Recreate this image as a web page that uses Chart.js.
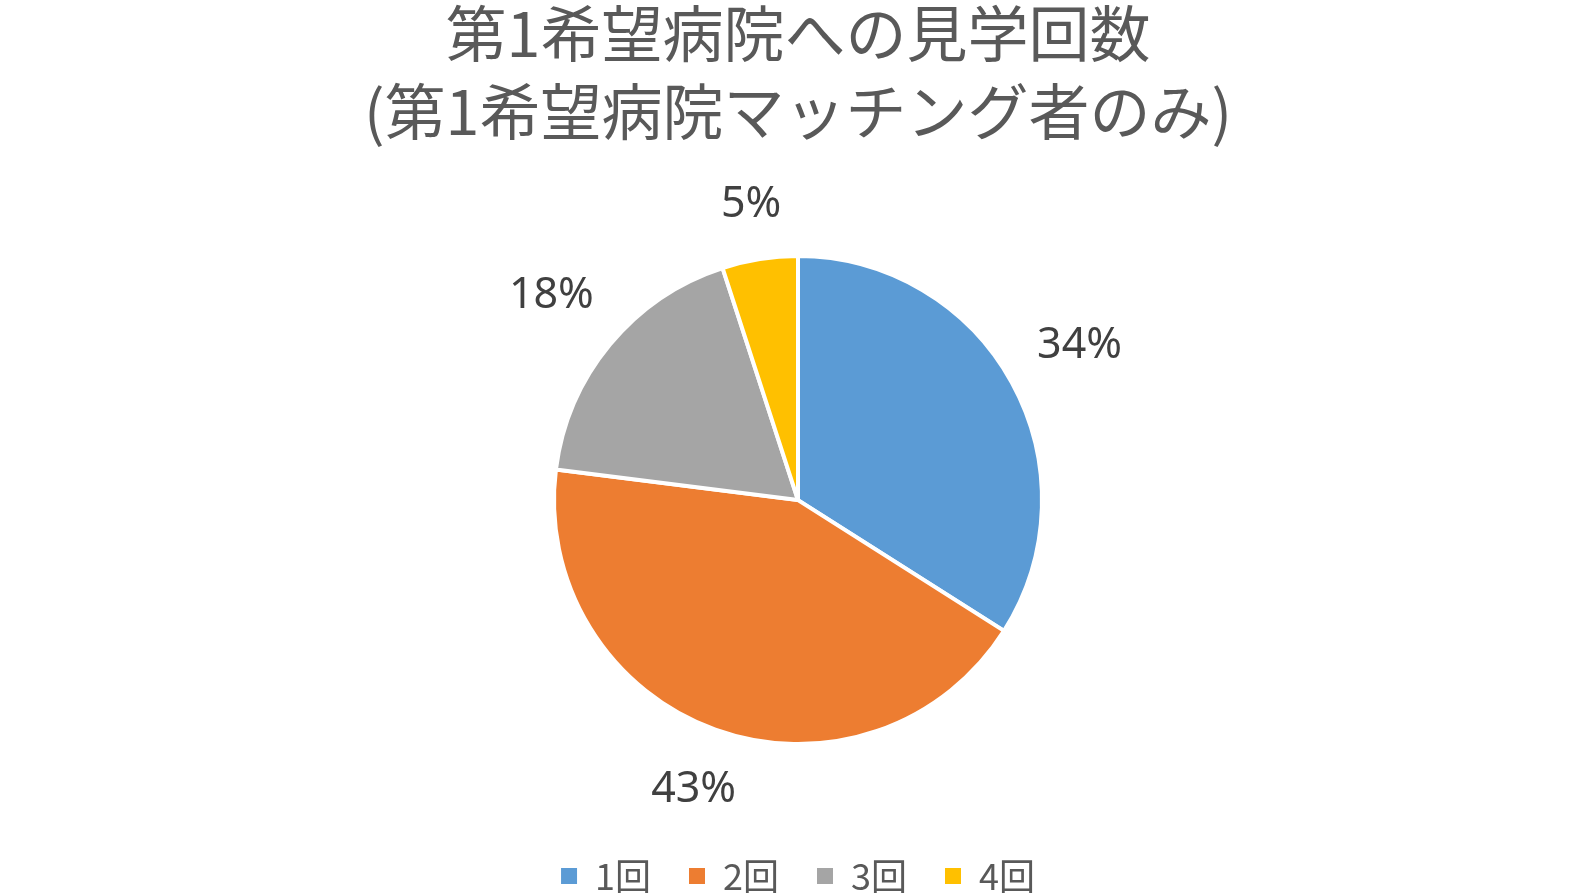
<!DOCTYPE html>
<html>
<head>
<meta charset="utf-8">
<script src="https://cdn.jsdelivr.net/npm/chart.js@4.4.0/dist/chart.umd.min.js"></script>
<style>
  html, body { margin: 0; padding: 0; background: #fff; overflow: hidden; }
  #wrap { width: 1596px; height: 893px; }
  canvas { display: block; }
</style>
</head>
<body>
<div id="wrap"><canvas id="pie" width="1596" height="893"></canvas></div>
<script>
var titleLines = ["第1希望病院への見学回数", "(第1希望病院マッチング者のみ)"];
var labels = ["1回", "2回", "3回", "4回"];
var values = [34, 43, 18, 5];
var colors = ["#5B9BD5", "#ED7D31", "#A5A5A5", "#FFC000"];

// percentage labels outside each slice
var outsideLabels = {
  id: "outsideLabels",
  afterDatasetsDraw: function (chart) {
    var ctx = chart.ctx;
    var meta = chart.getDatasetMeta(0);
    var total = values.reduce(function (a, b) { return a + b; }, 0);
    ctx.save();
    ctx.font = "43px 'Noto Sans', sans-serif";
    ctx.fillStyle = "#404040";
    ctx.textAlign = "center";
    ctx.textBaseline = "middle";
    meta.data.forEach(function (arc, i) {
      var p = arc.getProps(["x", "y", "startAngle", "endAngle", "outerRadius"], true);
      var mid = (p.startAngle + p.endAngle) / 2;
      var dx = Math.cos(mid), dy = Math.sin(mid);
      var txt = Math.round(values[i] / total * 100) + "%";
      var hw = ctx.measureText(txt).width / 2, hh = 21;
      var r = p.outerRadius + 30 + hw * Math.abs(dx) + hh * Math.abs(dy);
      ctx.fillText(txt, p.x + dx * r, p.y + dy * r);
    });
    ctx.restore();
  }
};

var ctx = document.getElementById("pie").getContext("2d");
var chart = new Chart(ctx, {
  type: "pie",
  data: {
    labels: labels,
    datasets: [{
      data: values,
      backgroundColor: colors,
      borderColor: "#ffffff",
      borderWidth: 4,
      radius: 244
    }]
  },
  options: {
    responsive: false,
    animation: false,
    layout: { padding: { top: -5, bottom: -11, left: 0, right: 0 } },
    plugins: {
      title: {
        display: true,
        text: titleLines,
        color: "#595959",
        font: { family: "'Noto Sans CJK JP'", size: 61, weight: "normal", lineHeight: 1.28 },
        padding: { top: 0, bottom: 29 }
      },
      legend: {
        position: "bottom",
        labels: {
          color: "#595959",
          font: { family: "'Noto Sans CJK JP'", size: 36 },
          boxWidth: 16,
          boxHeight: 16,
          padding: 38,
          generateLabels: function (chart) {
            // no white outline on the legend squares
            return Chart.overrides.pie.plugins.legend.labels.generateLabels(chart).map(function (item) {
              item.lineWidth = 0;
              return item;
            });
          }
        }
      },
      tooltip: { enabled: false }
    }
  },
  plugins: [outsideLabels]
});
</script>
</body>
</html>
